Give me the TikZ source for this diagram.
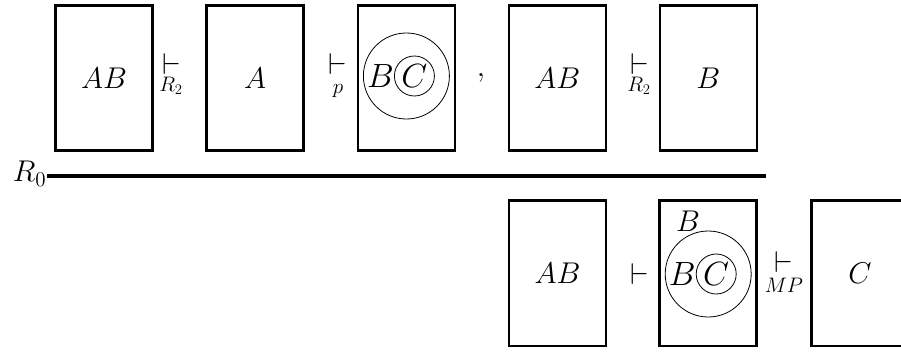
\RequirePackage{fix-cm}
\documentclass[tikz,border=0pt]{standalone}
\usepackage{graphicx}
\newcommand{\mx}[2]{\scalebox{#1}{$#2$}}
\tikzset{
  panel/.style={draw, line width=2.6pt, minimum width=97pt, minimum height=145.5pt, inner sep=0pt, font=\fontsize{20}{24}\selectfont},
  sym/.style={inner sep=0pt, font=\fontsize{20}{24}\selectfont},
  sub/.style={inner sep=0pt, anchor=base, font=\fontsize{20}{24}\selectfont},
  ring/.style={draw, circle, line width=0.8pt, inner sep=0pt},
  big/.style={inner sep=0pt, font=\fontsize{20}{24}\selectfont},
  rule/.style={line width=4pt}
}
\begin{document}
\begin{tikzpicture}[x=1pt,y=-1pt]
\useasboundingbox (0,0) rectangle (901,351);
% top row
\node[panel] (b1) at (104,78) {\mx{1.5}{AB}};
\node[sym, anchor=north] (t1) at (172,53.3) {\mx{1.5}{\vdash}};
\node[sub] (s1) at (171,91) {\mx{1.05}{R_2}};
\node[panel] (b2) at (255.2,78) {\mx{1.5}{A}};
\node[sym, anchor=north] (t2) at (338,53.3) {\mx{1.5}{\vdash}};
\node[sub] (s2) at (338,93.5) {\mx{1.05}{p}};
\node[panel] (b3) at (406.4,78) {};
\node[ring, minimum size=86pt] (o3) at (406.4,76) {};
\node[big] (bb3) at ([xshift=-26pt]o3.center) {\mx{1.68}{B}};
\node[ring, minimum size=40pt] (i3) at ([xshift=8pt]o3.center) {};
\node[big] (cc3) at (i3.center) {\mx{1.68}{C}};
\node[sym, anchor=base] (comma) at (481,76) {\mx{1.5}{,}};
\node[panel] (b4) at (557.3,78) {\mx{1.5}{AB}};
\node[sym, anchor=north] (t3) at (640,53.3) {\mx{1.5}{\vdash}};
\node[sub] (s3) at (639,91) {\mx{1.05}{R_2}};
\node[panel] (b5) at (708.3,78) {\mx{1.5}{B}};
% rule
\node[sym, anchor=base east] (r0) at (46.5,181.7) {\mx{1.5}{R_0}};
\coordinate (ruleR) at (766,175.7);
\draw[rule] (r0.east |- ruleR) -- (ruleR);
% bottom row
\node[panel] (b6) at (557.6,273.3) {\mx{1.5}{AB}};
\node[sym] (t4) at (640,273.6) {\mx{1.5}{\vdash}};
\node[panel] (b7) at (708.2,273.3) {};
\node[ring, minimum size=86pt] (o7) at (708.2,274) {};
\node[big] (bb7) at ([xshift=-26pt]o7.center) {\mx{1.68}{B}};
\node[ring, minimum size=40pt] (i7) at ([xshift=8pt]o7.center) {};
\node[big] (cc7) at (i7.center) {\mx{1.68}{C}};
\node[big] (lb7) at (688,221) {\mx{1.5}{B}};
\node[sym, anchor=north] (t5) at (783.5,251.7) {\mx{1.5}{\vdash}};
\node[sub] (s5) at (784,292) {\mx{1.05}{MP}};
\node[panel] (b8) at (860,273.3) {\mx{1.5}{C}};
\end{tikzpicture}
\end{document}
